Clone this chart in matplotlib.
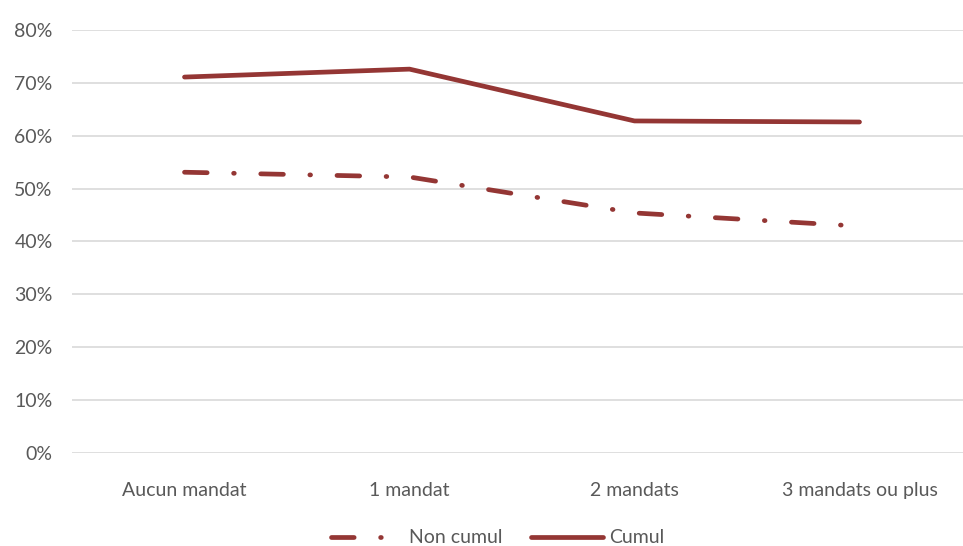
import matplotlib.pyplot as plt
from matplotlib.ticker import FuncFormatter

categories = ["Aucun mandat", "1 mandat", "2 mandats", "3 mandats ou plus"]
non_cumul = [53.1, 52.2, 45.4, 42.9]
cumul = [71.1, 72.6, 62.8, 62.6]
yticks = [0, 10, 20, 30, 40, 50, 60, 70, 80]

plt.rcParams['font.family'] = ['Lato', 'DejaVu Sans']
text_col = "#595959"
line_col = "#943634"

fig = plt.figure(figsize=(9.63, 5.46), dpi=100)
# plot area: left 72px, 0% at y=453, 80% at y=30
ax = fig.add_axes([72 / 963, (546 - 453) / 546, (963 - 72) / 963, (453 - 30) / 546])

x = list(range(len(categories)))
ax.plot(x, non_cumul, color=line_col, lw=3.4, label="Non cumul",
        dashes=(4.8, 5.6, 0.15, 5.6), dash_capstyle="round")
ax.plot(x, cumul, color=line_col, lw=3.4, label="Cumul", solid_capstyle="round")

ax.set_ylim(0, 80)
ax.set_xlim(-0.5, 3.5 - 9 / 225)
ax.set_yticks(yticks)
ax.yaxis.set_major_formatter(FuncFormatter(lambda v, p: f"{v:.0f}%"))
ax.set_xticks(x)
ax.set_xticklabels(categories)
ax.grid(axis="y", color="#d9d9d9", lw=1.2)
ax.set_axisbelow(True)
for s in ax.spines.values():
    s.set_visible(False)
ax.tick_params(length=0, labelsize=14, colors=text_col)
ax.tick_params(axis="x", pad=21)
ax.tick_params(axis="y", pad=14)

leg = ax.legend(loc="lower center", bbox_to_anchor=(0.5 - 20 / 891, -0.262), ncol=2,
                frameon=False, fontsize=14, handlelength=3.7, columnspacing=1.5,
                handletextpad=0.3)
for t in leg.get_texts():
    t.set_color(text_col)

fig.savefig("out.png", dpi=100)
